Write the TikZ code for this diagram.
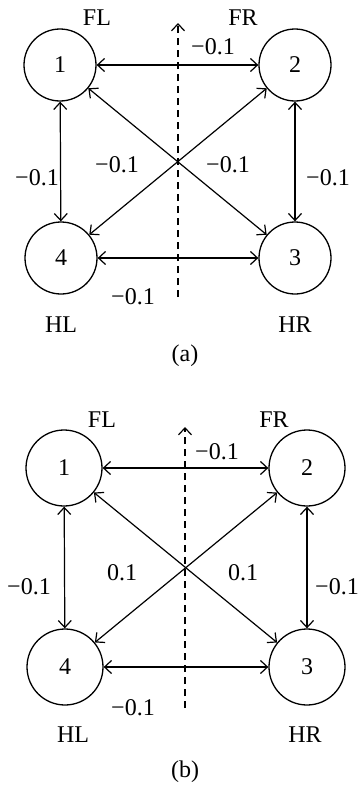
\documentclass[tikz,border=0pt]{standalone}
\usepackage{fontspec}
\setmainfont{Liberation Serif}
\usetikzlibrary{arrows.meta}
\begin{document}
\begin{tikzpicture}[x=1pt,y=-1pt,
  nd/.style={circle,draw,line width=1.3pt,inner sep=0pt,font=\fontsize{24}{24}\selectfont},
  lbl/.style={font=\fontsize{24}{24}\selectfont,inner sep=0pt},
  link/.style={line width=1.2pt,{Straight Barb[length=7pt,width=13pt,line width=1.2pt]}-{Straight Barb[length=7pt,width=13pt,line width=1.2pt]}},
  axisline/.style={line width=1.2pt,dash pattern=on 7pt off 5pt,-{Straight Barb[length=7pt,width=13pt,line width=1.2pt]}}]
\useasboundingbox (0,0) rectangle (358,787);
% ---------- panel (a)
\node[nd,minimum size=72pt] (a1) at (60,65) {1};
\node[nd,minimum size=72pt] (a2) at (295,65) {2};
\node[nd,minimum size=72pt] (a3) at (295,258) {3};
\node[nd,minimum size=72pt] (a4) at (61,258) {4};
\coordinate (atop) at (178,23);
\coordinate (abot) at (178,297);
\draw[axisline] (abot) -- (atop);
\draw[link] (a1) -- (a2);
\draw[link] (a1) -- (a4);
\draw[link] (a2) -- (a3);
\draw[link] (a4) -- (a3);
\draw[link] (a1) -- (a3);
\draw[link] (a2) -- (a4);
\node[lbl] (aFL) at (97,18) {FL};
\node[lbl] (aFR) at (243,18) {FR};
\node[lbl] (aHL) at (61,325) {HL};
\node[lbl] (aHR) at (295,325) {HR};
\node[lbl] (at12) at (213,47) {−0.1};
\node[lbl] (at14) at (37,178) {−0.1};
\node[lbl] (at24) at (117,165) {−0.1};
\node[lbl] (at13) at (228,165) {−0.1};
\node[lbl] (at23) at (328,178) {−0.1};
\node[lbl] (at43) at (133,297) {−0.1};
\node[lbl] (acap) at (185,356) {(a)};
% ---------- panel (b)
\node[nd,minimum size=76pt] (b1) at (64,468) {1};
\node[nd,minimum size=76pt] (b2) at (307,468) {2};
\node[nd,minimum size=76pt] (b3) at (307,667) {3};
\node[nd,minimum size=76pt] (b4) at (65,667) {4};
\coordinate (btop) at (185,427);
\coordinate (bbot) at (185,708);
\draw[axisline] (bbot) -- (btop);
\draw[link] (b1) -- (b2);
\draw[link] (b1) -- (b4);
\draw[link] (b2) -- (b3);
\draw[link] (b4) -- (b3);
\draw[link] (b1) -- (b3);
\draw[link] (b2) -- (b4);
\node[lbl] (bFL) at (102,420) {FL};
\node[lbl] (bFR) at (274,420) {FR};
\node[lbl] (bHL) at (73,735) {HL};
\node[lbl] (bHR) at (305,735) {HR};
\node[lbl] (bt12) at (217,452) {−0.1};
\node[lbl] (bt14) at (29,587) {−0.1};
\node[lbl] (bt24) at (122,573) {0.1};
\node[lbl] (bt13) at (243,573) {0.1};
\node[lbl] (bt23) at (337,587) {−0.1};
\node[lbl] (bt43) at (133,708) {−0.1};
\node[lbl] (bcap) at (185,772) {(b)};
\end{tikzpicture}
\end{document}
